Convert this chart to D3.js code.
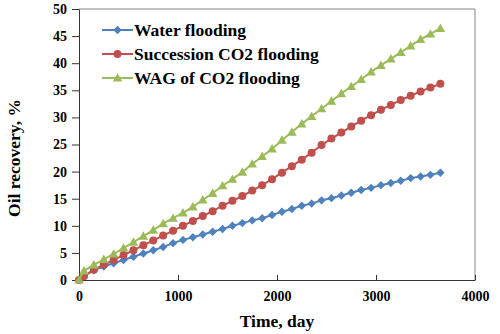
<!DOCTYPE html>
<html>
<head>
<meta charset="utf-8">
<script src="https://cdn.jsdelivr.net/npm/d3@7"></script>
<style>
  body { margin: 0; background: #fff; }
</style>
</head>
<body>
<div id="chart"></div>
<script>
const days = [0, 50, 150, 250, 350, 450, 550, 650, 750, 850, 950, 1050, 1150, 1250, 1350,
  1450, 1550, 1650, 1750, 1850, 1950, 2050, 2150, 2250, 2350, 2450, 2550, 2650, 2750,
  2850, 2950, 3050, 3150, 3250, 3350, 3450, 3550, 3650];

const waterFlooding = [0, 0.7, 1.8, 2.5, 3.1, 3.7, 4.3, 4.9, 5.5, 6.1, 6.8, 7.4, 7.9, 8.4, 8.9,
  9.4, 10.0, 10.5, 11.0, 11.4, 12.0, 12.6, 13.1, 13.7, 14.1, 14.7, 15.1, 15.6, 16.1,
  16.6, 17.0, 17.5, 17.9, 18.3, 18.8, 19.1, 19.4, 19.8];

const successionCO2 = [0, 0.7, 1.9, 2.8, 3.7, 4.6, 5.5, 6.4, 7.3, 8.2, 9.1, 10.0, 10.9, 11.8, 12.7,
  13.7, 14.6, 15.5, 16.5, 17.5, 18.6, 19.8, 21.0, 22.2, 23.5, 24.9, 26.1, 27.2, 28.3,
  29.4, 30.4, 31.4, 32.3, 33.2, 34.0, 34.8, 35.5, 36.2];

const wagCO2 = [0, 1.7, 2.8, 3.8, 4.8, 5.9, 7.0, 8.1, 9.2, 10.4, 11.4, 12.4, 13.5, 14.8, 16.0,
  17.4, 18.6, 19.9, 21.4, 22.8, 24.2, 25.8, 27.3, 28.8, 30.2, 31.6, 33.0, 34.4, 35.7,
  37.0, 38.4, 39.6, 40.8, 42.0, 43.2, 44.4, 45.4, 46.4];

const seriesNames = ["Water flooding", "Succession CO2 flooding", "WAG of CO2 flooding"];
const xTicks = [0, 1000, 2000, 3000, 4000];
const yTicks = [0, 5, 10, 15, 20, 25, 30, 35, 40, 45, 50];

const w = 500, h = 334;
const m = { l: 79, t: 9, r: 25, b: 54 };
const serif = "'Liberation Serif', 'Times New Roman', serif";

const svg = d3.select("#chart").append("svg").attr("width", w).attr("height", h);

const x = d3.scaleLinear().domain([0, 4000]).range([m.l, w - m.r]);
const y = d3.scaleLinear().domain([0, 50]).range([h - m.b, m.t]);

// top / right frame
svg.append("path")
  .attr("d", `M${x(0)},${y(50)}H${x(4000)}V${y(0)}`)
  .attr("fill", "none").attr("stroke", "#868686").attr("stroke-width", 1);

const xAxis = svg.append("g")
  .attr("transform", `translate(0,${y(0)})`)
  .call(d3.axisBottom(x).tickValues(xTicks).tickFormat(d3.format("d"))
    .tickSizeInner(-5).tickSizeOuter(0).tickPadding(11));

const yAxis = svg.append("g")
  .attr("transform", `translate(${x(0)},0)`)
  .call(d3.axisLeft(y).tickValues(yTicks).tickFormat(d3.format("d"))
    .tickSize(7).tickSizeOuter(0).tickPadding(5));

svg.selectAll(".tick text")
  .attr("font-size", 14)
  .attr("font-family", serif)
  .attr("font-weight", "bold")
  .attr("fill", "#000");
xAxis.attr("font-family", serif);
yAxis.attr("font-family", serif);

svg.selectAll(".domain").attr("stroke", "#333");
svg.selectAll(".tick line").attr("stroke", "#333");

const shapes = {
  diamond: "M0,-4.2L4.2,0L0,4.2L-4.2,0Z",
  circle: "M4,0A4,4 0 1,1 -4,0A4,4 0 1,1 4,0Z",
  triangle: "M0,-4.8L4.8,3.6L-4.8,3.6Z"
};

const series = [
  { name: seriesNames[0], values: waterFlooding, color: "#4F81BD", shape: shapes.diamond },
  { name: seriesNames[1], values: successionCO2, color: "#C0504D", shape: shapes.circle },
  { name: seriesNames[2], values: wagCO2, color: "#9BBB59", shape: shapes.triangle }
];

const line = d3.line().x((d, i) => x(days[i])).y(d => y(d));

series.forEach(s => {
  const g = svg.append("g");
  g.append("path")
    .attr("d", line(s.values))
    .attr("fill", "none")
    .attr("stroke", s.color)
    .attr("stroke-width", 2);
  g.selectAll("path.mk")
    .data(s.values)
    .join("path")
    .attr("class", "mk")
    .attr("d", s.shape)
    .attr("fill", s.color)
    .attr("transform", (d, i) => `translate(${x(days[i])},${y(d)})`);
});

// legend
const lg = svg.append("g").attr("transform", "translate(102,30)");
series.forEach((s, i) => {
  const row = lg.append("g").attr("transform", `translate(0,${i * 24})`);
  row.append("line").attr("x1", 0).attr("x2", 31).attr("stroke", s.color).attr("stroke-width", 2);
  row.append("path").attr("d", s.shape).attr("fill", s.color).attr("transform", "translate(15.5,0)");
  row.append("text")
    .attr("x", 32).attr("dy", "0.35em")
    .attr("font-family", serif).attr("font-weight", "bold")
    .attr("font-size", 17.5)
    .text(s.name);
});

svg.append("text")
  .attr("x", (x(0) + x(4000)) / 2)
  .attr("y", 327)
  .attr("text-anchor", "middle")
  .attr("font-family", serif).attr("font-weight", "bold")
  .attr("font-size", 17.5)
  .text("Time, day");

svg.append("text")
  .attr("transform", "translate(20,158) rotate(-90)")
  .attr("text-anchor", "middle")
  .attr("font-family", serif).attr("font-weight", "bold")
  .attr("font-size", 17.5)
  .text("Oil recovery, %");
</script>
</body>
</html>
